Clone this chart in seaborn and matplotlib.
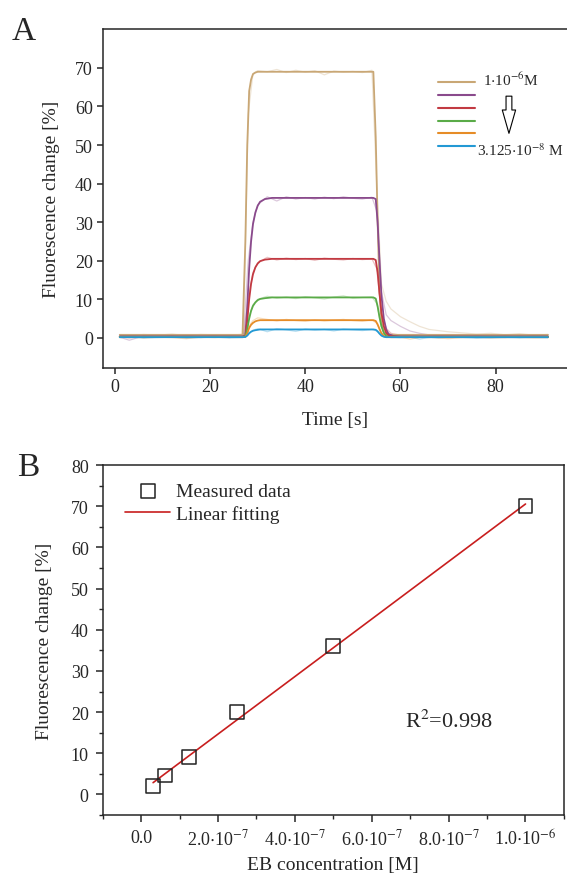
import numpy as np
import pandas as pd
import matplotlib
matplotlib.use("Agg")
import matplotlib.pyplot as plt
from matplotlib.lines import Line2D
from matplotlib.ticker import MultipleLocator
import seaborn as sns

# ---------------- data: panel A (time courses) ----------------
conc_labels = ["1e-6", "5e-7", "2.5e-7", "1.25e-7", "6.25e-8", "3.125e-8"]
line_colors = ["#c9a775", "#8a4a8c", "#c23a42", "#5aab48", "#e68c27", "#2399d4"]

# fitted curves
t_fit = [1, 10, 20, 26.8, 27.4, 27.8, 28.2, 28.6, 29.0, 29.5, 30.0, 30.5, 31.5, 33, 36,
         54.3, 54.8, 55.2, 55.6, 56.0, 56.5, 57.0, 57.5, 58.5, 60, 70, 91]
fit_1e6 = [0.8, 0.8, 0.8, 0.8, 25, 50, 64, 67, 68.4, 68.8, 69, 69, 69, 69, 69,
           69, 52, 30, 12, 4, 1.5, 1.0, 0.9, 0.8, 0.8, 0.8, 0.8]
fit_5e7 = [0.4, 0.4, 0.4, 0.4, 0.6, 8, 18, 25, 29.5, 32.5, 34.3, 35.3, 36.0, 36.3, 36.3,
           36.3, 36.0, 30, 20, 11, 5, 2.2, 1.0, 0.5, 0.4, 0.4, 0.4]
fit_25e7 = [0.3, 0.3, 0.3, 0.3, 0.5, 4.5, 10, 14, 16.5, 18.3, 19.3, 19.9, 20.3, 20.5, 20.5,
            20.5, 20.2, 17, 11.5, 6.5, 3, 1.3, 0.6, 0.4, 0.3, 0.3, 0.3]
fit_125e7 = [0.3, 0.3, 0.3, 0.3, 0.4, 2.3, 5, 7, 8.3, 9.2, 9.8, 10.1, 10.3, 10.5, 10.5,
             10.5, 10.2, 8.2, 5.3, 3, 1.3, 0.5, 0.3, 0.3, 0.3, 0.3, 0.3]
fit_625e8 = [0.2, 0.2, 0.2, 0.2, 0.3, 1.2, 2.6, 3.4, 3.9, 4.3, 4.5, 4.6, 4.6, 4.6, 4.6,
             4.6, 4.4, 3.5, 2.3, 1.2, 0.5, 0.2, 0.2, 0.2, 0.2, 0.2, 0.2]
fit_3125e8 = [0.2, 0.2, 0.2, 0.2, 0.25, 0.6, 1.2, 1.6, 1.85, 2.0, 2.1, 2.2, 2.2, 2.2, 2.2,
              2.2, 2.1, 1.7, 1.1, 0.6, 0.3, 0.2, 0.2, 0.2, 0.2, 0.2, 0.2]

# raw (noisy) measurements, drawn faint
t_raw = [1, 3, 6, 9, 12, 15, 18, 21, 24, 27, 28, 29, 30, 32, 34, 36, 38, 40, 42, 44, 46,
         48, 50, 52, 54, 55, 56, 57, 58, 60, 62, 64, 66, 68, 70, 73, 76, 79, 82, 85, 88, 91]
raw_1e6 = [0.8, 0.5, 0.9, 0.7, 1.0, 0.6, 0.9, 0.8, 0.6, 1.0, 58, 68.5, 69.3, 69.0, 69.6, 68.8,
           69.4, 68.9, 69.3, 68.2, 69.2, 68.9, 69.1, 68.8, 69.4, 40, 14, 9.5, 7.5, 5.5, 4.2,
           3.0, 2.2, 1.9, 1.6, 1.3, 1.0, 1.2, 0.8, 1.1, 0.7, 0.9]
raw_5e7 = [0.2, -0.6, 0.5, 0.3, 0.6, 0.1, 0.4, 0.5, 0.2, 0.5, 20, 30, 34.5, 36.6, 35.5, 36.6,
           36.0, 36.4, 36.0, 36.5, 36.1, 36.6, 36.2, 36.0, 36.5, 33, 12, 6, 4.5, 3.0, 1.8,
           1.2, 0.8, 0.6, 0.5, 0.4, 0.6, 0.3, 0.5, 0.2, 0.4, 0.3]
raw_25e7 = [0.3, 0.0, 0.4, 0.2, 0.5, 0.2, 0.3, 0.4, 0.1, 0.4, 10.5, 17, 19.5, 20.9, 20.2, 20.7,
            20.3, 20.6, 20.1, 20.7, 20.4, 20.2, 20.6, 20.3, 20.5, 18, 6.5, 2.5, 1.2, 0.7, 0.5,
            0.3, 0.4, 0.2, 0.3, 0.4, 0.2, 0.3, 0.1, 0.4, 0.2, 0.3]
raw_125e7 = [0.2, 0.4, 0.1, 0.3, 0.2, 0.4, 0.1, 0.3, 0.2, 0.3, 5, 8.6, 10.0, 10.8, 10.3, 10.6,
             10.2, 10.7, 10.4, 10.1, 10.6, 10.9, 10.3, 10.5, 10.6, 9, 3, 0.8, 0.4, 0.3, 0.2,
             0.3, 0.1, 0.3, 0.2, 0.3, 0.1, 0.2, 0.3, 0.1, 0.2, 0.3]
raw_625e8 = [0.1, 0.3, 0.0, 0.2, 0.1, -0.2, 0.2, 0.1, 0.3, 0.2, 2.8, 4.5, 5.2, 4.8, 4.4, 4.8,
             4.5, 4.3, 4.7, 4.4, 4.6, 4.8, 4.5, 4.3, 4.7, 3.8, 1.2, 0.3, 0.1, 0.2, -0.3,
             0.1, 0.2, 0.0, -0.2, 0.1, 0.2, 0.0, 0.1, 0.2, 0.0, 0.1]
raw_3125e8 = [0.1, 0.2, 0.0, 0.1, 0.2, 0.0, 0.1, 0.2, 0.0, 0.1, 1.3, 2.0, 2.4, 1.6, 2.4, 2.1,
              1.7, 2.3, 2.0, 2.2, 1.8, 2.3, 2.1, 1.9, 2.2, 1.8, 0.6, 0.2, 0.1, 0.0, 0.2,
              -0.3, 0.1, 0.0, 0.2, 0.1, -0.1, 0.0, 0.1, 0.0, 0.1, 0.0]

fit_series = [fit_1e6, fit_5e7, fit_25e7, fit_125e7, fit_625e8, fit_3125e8]
raw_series = [raw_1e6, raw_5e7, raw_25e7, raw_125e7, raw_625e8, raw_3125e8]

# ---------------- data: panel B (calibration) ----------------
eb_conc = [3.125e-8, 6.25e-8, 1.25e-7, 2.5e-7, 5e-7, 1e-6]
eb_signal = [2.0, 4.6, 9.0, 20.0, 36.0, 70.0]
b_xticks = [0, 2e-7, 4e-7, 6e-7, 8e-7, 1e-6]
b_xticklabels = ["0.0", r"2.0$\cdot$10$^{-7}$", r"4.0$\cdot$10$^{-7}$",
                 r"6.0$\cdot$10$^{-7}$", r"8.0$\cdot$10$^{-7}$", r"1.0$\cdot$10$^{-6}$"]

# ---------------- style ----------------
sns.set_theme(style="ticks")
plt.rcParams["font.family"] = ["Liberation Serif", "DejaVu Serif"]
plt.rcParams["mathtext.fontset"] = "stix"
plt.rcParams["axes.linewidth"] = 1.1
plt.rcParams["xtick.major.width"] = 1.1
plt.rcParams["ytick.major.width"] = 1.1
plt.rcParams["xtick.minor.width"] = 1.0
plt.rcParams["ytick.minor.width"] = 1.0
plt.rcParams["xtick.minor.size"] = 3
plt.rcParams["ytick.minor.size"] = 3
plt.rcParams["xtick.direction"] = "out"
plt.rcParams["ytick.direction"] = "out"

fig = plt.figure(figsize=(5.67, 8.79), dpi=100)
palette = dict(zip(conc_labels, line_colors))

# ---------------- panel A ----------------
ax1 = fig.add_axes([0.181, 0.5802, 0.819, 0.3857])
fit_df = pd.DataFrame({
    "t": np.tile(t_fit, len(conc_labels)),
    "val": np.concatenate(fit_series),
    "conc": np.repeat(conc_labels, len(t_fit)),
})
raw_df = pd.DataFrame({
    "t": np.tile(t_raw, len(conc_labels)),
    "val": np.concatenate(raw_series),
    "conc": np.repeat(conc_labels, len(t_raw)),
})
sns.lineplot(data=raw_df, x="t", y="val", hue="conc", palette=palette, estimator=None,
             sort=False, legend=False, ax=ax1, lw=0.9, alpha=0.3)
sns.lineplot(data=fit_df, x="t", y="val", hue="conc", palette=palette, estimator=None,
             sort=False, legend=False, ax=ax1, lw=1.3)

ax1.set_xlim(-2.6, 95)
ax1.set_ylim(-7.8, 80.1)
ax1.set_xticks([0, 20, 40, 60, 80])
ax1.set_yticks([0, 10, 20, 30, 40, 50, 60, 70])
ax1.tick_params(labelsize=13, top=False, right=False, length=4.5, pad=2.5)
ax1.spines["right"].set_visible(False)
ax1.set_xlabel("Time [s]", fontsize=14, labelpad=12)
ax1.set_ylabel("Fluorescence change [%]", fontsize=14, labelpad=11)

handles = [Line2D([], [], color=c, lw=1.5) for c in line_colors]
ax1.legend(handles, [""] * len(handles), loc="upper left", bbox_to_anchor=(0.722, 0.854),
           frameon=False, fontsize=8, handlelength=3.3, handletextpad=0,
           labelspacing=0.27, borderpad=0, borderaxespad=0)
ax1.text(0.819, 0.835, r"1$\cdot$10$^{-6}$M", transform=ax1.transAxes, fontsize=11,
         va="baseline", ha="left")
ax1.text(0.806, 0.627, r"3.125$\cdot$10$^{-8}$ M", transform=ax1.transAxes, fontsize=11,
         va="baseline", ha="left")
ax1.annotate("", xy=(0.875, 0.684), xytext=(0.875, 0.810), xycoords="axes fraction",
             arrowprops=dict(arrowstyle="simple,head_width=0.8,head_length=1.4,tail_width=0.35",
                             fc="white", ec="black", lw=0.8))
fig.text(0.020, 0.955, "A", fontsize=24)

# ---------------- panel B ----------------
ax2 = fig.add_axes([0.181, 0.0717, 0.8136, 0.398])
sns.regplot(x=eb_conc, y=eb_signal, scatter=False, ci=None, truncate=True, ax=ax2,
            line_kws=dict(color="#c81e1e", lw=1.2), label="Linear fitting")
sns.scatterplot(x=eb_conc, y=eb_signal, marker="s", s=100, facecolor="none",
                edgecolor="#222222", linewidth=1.1, ax=ax2, label="Measured data", zorder=3)
ax2.set_xlim(-1e-7, 1.1e-6)
ax2.set_ylim(-5, 80)
ax2.set_xticks(b_xticks)
ax2.set_xticklabels(b_xticklabels)
ax2.xaxis.set_minor_locator(MultipleLocator(1e-7))
ax2.set_yticks([0, 10, 20, 30, 40, 50, 60, 70, 80])
ax2.yaxis.set_minor_locator(MultipleLocator(5))
ax2.tick_params(which="major", length=5, pad=5)
ax2.tick_params(which="both", labelsize=13, top=False, right=False, bottom=True, left=True)
ax2.set_xlabel("EB concentration [M]", fontsize=14, labelpad=5)
ax2.set_ylabel("Fluorescence change [%]", fontsize=14, labelpad=13)
h, l = ax2.get_legend_handles_labels()
order = [l.index("Measured data"), l.index("Linear fitting")]
ax2.legend([h[i] for i in order], [l[i] for i in order], loc="upper left",
           bbox_to_anchor=(0.02, 0.99), frameon=False, fontsize=14, handlelength=2.3,
           handletextpad=0.3, labelspacing=0.25, borderpad=0.2)
ax2.text(8.0e-7, 18, r"R$^2$=0.998", fontsize=16, ha="center", va="center")
fig.text(0.030, 0.458, "B", fontsize=24)

fig.savefig("out.png", dpi=100)
